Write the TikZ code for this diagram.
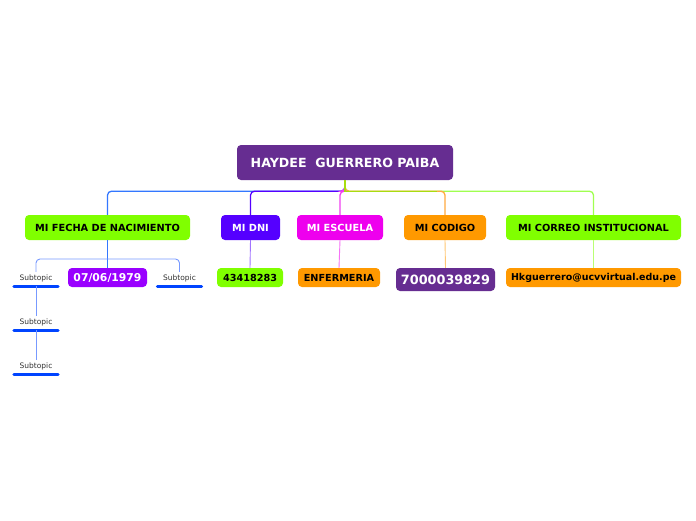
\documentclass[tikz,border=0pt]{standalone}
\usepackage{fontspec}
\setmainfont{DejaVu Sans}
\definecolor{rootc}{HTML}{662D91}
\definecolor{greenc}{HTML}{80FF00}
\definecolor{dnic}{HTML}{5500FF}
\definecolor{magc}{HTML}{EE00EE}
\definecolor{orangec}{HTML}{FF9900}
\definecolor{datec}{HTML}{9900FF}
\definecolor{barc}{HTML}{0044FF}
\definecolor{fechaline}{HTML}{3377FF}
\definecolor{subline}{HTML}{7799FF}
\definecolor{trunkr}{HTML}{A8DC10}
\definecolor{correoline}{HTML}{A0FF50}
\definecolor{codline}{HTML}{FFAA40}
\definecolor{escline}{HTML}{F040F0}
\definecolor{subtext}{HTML}{333333}
\tikzset{
  box/.style={rounded corners=4pt, inner sep=0pt, align=center},
  lvl1/.style={box, minimum height=25, font=\fontsize{9.8}{11}\selectfont\bfseries},
  lvl2/.style={box, minimum height=19, font=\fontsize{9.7}{11}\selectfont\bfseries},
  subtopic/.style={inner sep=0pt, minimum width=47, minimum height=16,
     font=\fontsize{7.5}{8}\selectfont, text=subtext,
     append after command={(\tikzlastnode.south west) edge[barc, line width=3.2pt, line cap=round, shorten <=1.6pt, shorten >=1.6pt] (\tikzlastnode.south east)}},
  mainlink/.style={line width=1.3pt, rounded corners=4pt},
  sublink/.style={line width=0.9pt, rounded corners=4pt}
}
\begin{document}
\begin{tikzpicture}[x=1pt,y=-1pt]
\useasboundingbox (0,0) rectangle (696,520);
\fill[white] (0,0) rectangle (696,520);

% root
\node[box, fill=rootc, text=white, minimum width=216, minimum height=35, font=\fontsize{12.6}{14}\selectfont\bfseries] (root) at (345,162.5) {HAYDEE\ \ GUERRERO PAIBA};

% level 1
\node[lvl1, fill=greenc, text=black, minimum width=165] (fecha) at (107.5,227.5) {MI FECHA DE NACIMIENTO};
\node[lvl1, fill=dnic, text=white, minimum width=59] (dni) at (250.5,227.5) {MI DNI};
\node[lvl1, fill=magc, text=white, minimum width=86] (escuela) at (340,227.5) {MI ESCUELA};
\node[lvl1, fill=orangec, text=black, minimum width=82] (codigo) at (445,227.5) {MI CODIGO};
\node[lvl1, fill=greenc, text=black, minimum width=175] (correo) at (593.5,227.5) {MI CORREO INSTITUCIONAL};

% level 2
\node[lvl2, fill=datec, text=white, minimum width=79, font=\fontsize{10.8}{12}\selectfont\bfseries] (fechav) at (107.5,277.5) {07/06/1979};
\node[lvl2, fill=greenc, text=black, minimum width=66] (dniv) at (250,277.5) {43418283};
\node[lvl2, fill=orangec, text=black, minimum width=82] (escuelav) at (339,277.5) {ENFERMERIA};
\node[lvl2, fill=rootc, text=white, minimum width=99, minimum height=23, font=\fontsize{12.8}{14}\selectfont\bfseries] (codigov) at (445.5,279.5) {7000039829};
\node[lvl2, fill=orangec, text=black, minimum width=175, font=\fontsize{9.5}{11}\selectfont\bfseries] (correov) at (593.5,277.5) {Hkguerrero@ucvvirtual.edu.pe};

% subtopics
\node[subtopic] (s1) at (36,278) {Subtopic};
\node[subtopic] (s2) at (36,322) {Subtopic};
\node[subtopic] (s3) at (36,366) {Subtopic};
\node[subtopic] (s4) at (179.5,278) {Subtopic};

% main connectors
\draw[mainlink, correoline] (root.south) -- ++(0,11) -| (correo.north);
\draw[mainlink, codline] (root.south) -- ++(0,11) -| (codigo.north);
\draw[line width=1.3pt, trunkr] (root.south) ++(0,11) -- ++(92,0);
\draw[mainlink, fechaline] (root.south) -- ++(0,11) -| (fecha.north);
\draw[mainlink, dnic] (root.south) -- ++(0,11) -| (dni.north);
\draw[mainlink, escline] (root.south) -- ++(0,11) -| (escuela.north);
\draw[line width=1.3pt, trunkr] (root.south) -- ++(0,11.6);

% level 2 connectors
\draw[mainlink, fechaline] (fecha.south) -- (fechav.north);
\draw[sublink, dnic!55!white] (dni.south) -- (dniv.north);
\draw[sublink, magc!55!white] (escuela.south) -- (escuelav.north);
\draw[sublink, orangec!55!white] (codigo.south) -- (codigov.north);
\draw[sublink, greenc!55!white] (correo.south) -- (correov.north);

% subtopic connectors
\coordinate (fj) at (107.5,259);
\draw[sublink, subline] (fj) -| ([yshift=-2pt]s1.north);
\draw[sublink, subline] (fj) -| ([yshift=-2pt]s4.north);
\draw[sublink, subline] (s1.south) -- ([yshift=-2pt]s2.north);
\draw[sublink, subline] (s2.south) -- ([yshift=-2pt]s3.north);
\end{tikzpicture}
\end{document}
